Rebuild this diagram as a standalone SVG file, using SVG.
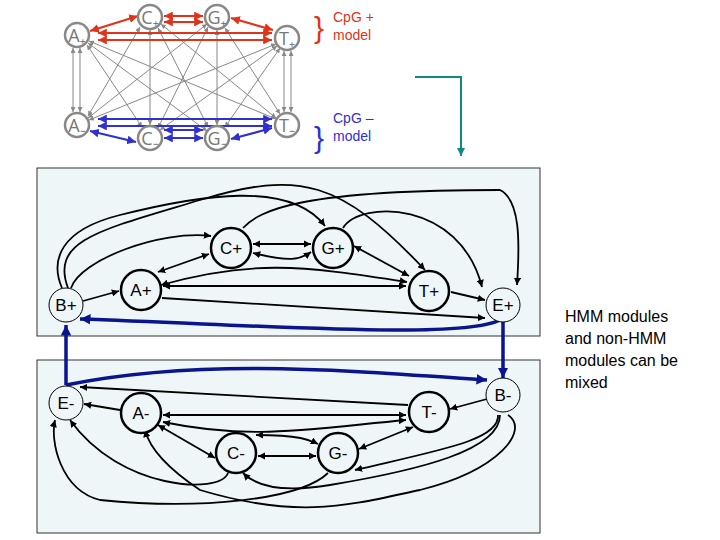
<svg xmlns="http://www.w3.org/2000/svg" width="720" height="540" viewBox="0 0 720 540">
<style>
.box{fill:#eef6f8;stroke:#333;stroke-width:1}
.n{fill:#eef6f8;stroke:#000;stroke-width:2.5}
.b{fill:#eef6f8;stroke:#000;stroke-width:1}
.t{font-family:"Liberation Sans",Arial,sans-serif;font-size:17px;text-anchor:middle;dominant-baseline:central}
.e{fill:none;stroke:#000;stroke-width:1.8;marker-end:url(#ah)}
.d{fill:none;stroke:#000;stroke-width:1.8;marker-end:url(#ah);marker-start:url(#ahs)}
.bl{fill:none;stroke:#0a148c;stroke-width:3.5;marker-end:url(#bh)}
.g{stroke:#888;stroke-width:1;marker-end:url(#gh);marker-start:url(#ghs)}
.r{stroke:#e0341a;stroke-width:2.2;marker-end:url(#rh);marker-start:url(#rhs)}
.u{stroke:#3030d0;stroke-width:2.2;marker-end:url(#uh);marker-start:url(#uhs)}
.sn{fill:#fff;stroke:#888;stroke-width:2.5}
.st{font-family:"Open Sans","Liberation Sans",sans-serif;font-size:18px;fill:#777;text-anchor:middle;dominant-baseline:central}
.lb{font-family:"Liberation Sans",sans-serif;font-size:14px}
</style>
<defs>
<marker id="ah" viewBox="0 0 10 10" refX="10" refY="5" markerWidth="4" markerHeight="4" orient="auto"><path d="M0 0L10 5L0 10z"/></marker>
<marker id="ahs" viewBox="0 0 10 10" refX="0" refY="5" markerWidth="4" markerHeight="4" orient="auto"><path d="M10 0L0 5L10 10z"/></marker>
<marker id="bh" viewBox="0 0 10 10" refX="10" refY="5" markerWidth="3" markerHeight="3" orient="auto"><path d="M0 0L10 5L0 10z" fill="#0a148c"/></marker>
<marker id="gh" viewBox="0 0 10 10" refX="10" refY="5" markerWidth="5" markerHeight="5" orient="auto"><path d="M0 0L10 5L0 10z" fill="#888"/></marker>
<marker id="ghs" viewBox="0 0 10 10" refX="0" refY="5" markerWidth="5" markerHeight="5" orient="auto"><path d="M10 0L0 5L10 10z" fill="#888"/></marker>
<marker id="rh" viewBox="0 0 10 10" refX="10" refY="5" markerWidth="4" markerHeight="4" orient="auto"><path d="M0 0L10 5L0 10z" fill="#e0341a"/></marker>
<marker id="rhs" viewBox="0 0 10 10" refX="0" refY="5" markerWidth="4" markerHeight="4" orient="auto"><path d="M10 0L0 5L10 10z" fill="#e0341a"/></marker>
<marker id="uh" viewBox="0 0 10 10" refX="10" refY="5" markerWidth="4" markerHeight="4" orient="auto"><path d="M0 0L10 5L0 10z" fill="#3030d0"/></marker>
<marker id="uhs" viewBox="0 0 10 10" refX="0" refY="5" markerWidth="4" markerHeight="4" orient="auto"><path d="M10 0L0 5L10 10z" fill="#3030d0"/></marker>
<marker id="th" viewBox="0 0 10 10" refX="10" refY="5" markerWidth="4" markerHeight="4" orient="auto"><path d="M0 0L10 5L0 10z" fill="#118888"/></marker>
</defs>
<rect width="720" height="540" fill="#fff"/>
<g id="cpg-image">
<g>
<line class="g" x1="80" y1="48" x2="80" y2="112"/><line class="g" x1="73" y1="48" x2="73" y2="112"/>
<line class="g" x1="284" y1="51" x2="284" y2="112"/><line class="g" x1="291" y1="51" x2="291" y2="112"/>
<line class="g" x1="150" y1="30" x2="150" y2="125"/><line class="g" x1="217" y1="30" x2="217" y2="125"/>
<line class="g" x1="87" y1="45" x2="142" y2="127"/><line class="g" x1="88" y1="43" x2="207" y2="131"/><line class="g" x1="89" y1="41" x2="276" y2="119"/>
<line class="g" x1="140" y1="27" x2="88" y2="116"/><line class="g" x1="158" y1="28" x2="208" y2="127"/><line class="g" x1="161" y1="24" x2="276" y2="118"/>
<line class="g" x1="207" y1="24" x2="88" y2="118"/><line class="g" x1="208" y1="27" x2="158" y2="128"/><line class="g" x1="225" y1="28" x2="280" y2="114"/>
<line class="g" x1="276" y1="44" x2="89" y2="120"/><line class="g" x1="277" y1="46" x2="160" y2="130"/><line class="g" x1="280" y1="48" x2="225" y2="127"/>
</g>
<line class="r" x1="90" y1="31" x2="138" y2="16"/><line class="r" x1="164" y1="16" x2="203" y2="16"/><line class="r" x1="164" y1="22" x2="203" y2="22"/>
<line class="r" x1="231" y1="18" x2="273" y2="30"/><line class="r" x1="98" y1="33" x2="272" y2="33"/><line class="r" x1="98" y1="40" x2="272" y2="40"/>
<line class="u" x1="98" y1="119" x2="272" y2="119"/><line class="u" x1="98" y1="126" x2="272" y2="126"/>
<line class="u" x1="90" y1="131" x2="136" y2="142"/><line class="u" x1="164" y1="130" x2="203" y2="130"/><line class="u" x1="164" y1="138" x2="203" y2="138"/><line class="u" x1="231" y1="139" x2="272" y2="128"/>
<circle class="sn" cx="77" cy="35" r="12"/><text class="st" x="77" y="35">A₊</text>
<circle class="sn" cx="150" cy="17" r="12"/><text class="st" x="150" y="17">C₊</text>
<circle class="sn" cx="217" cy="17" r="12"/><text class="st" x="217" y="17">G₊</text>
<circle class="sn" cx="287" cy="38" r="12"/><text class="st" x="287" y="38">T₊</text>
<circle class="sn" cx="77" cy="125" r="12"/><text class="st" x="77" y="125">A₋</text>
<circle class="sn" cx="150" cy="138" r="12"/><text class="st" x="150" y="138">C₋</text>
<circle class="sn" cx="217" cy="138" r="12"/><text class="st" x="217" y="138">G₋</text>
<circle class="sn" cx="287" cy="125" r="12"/><text class="st" x="287" y="125">T₋</text>
<text x="314" y="38" font-family="Liberation Sans,sans-serif" font-size="30" fill="#e0341a">}</text>
<text class="lb" x="333" y="22" fill="#e0341a">CpG +</text>
<text class="lb" x="333" y="40" fill="#e0341a">model</text>
<text x="314" y="148" font-family="Liberation Sans,sans-serif" font-size="30" fill="#3030d0">}</text>
<text class="lb" x="333" y="123" fill="#3030d0">CpG –</text>
<text class="lb" x="333" y="141" fill="#3030d0">model</text>
</g>
<polyline points="415,77 461,77 461,156" fill="none" stroke="#118888" stroke-width="2" marker-end="url(#th)"/>
<rect class="box" x="37" y="168" width="503" height="168"/>
<rect class="box" x="37" y="360" width="503" height="173"/>
<g id="connectors">
<path class="e" d="M68 288 C50 240 100 230 200 200 C300 170 340 180 425 270"/>
<path class="e" d="M62 288 C50 260 60 230 120 215 C200 195 290 180 325 226"/>
<path class="e" d="M71 288 C80 260 160 230 211 236"/>
<path class="e" d="M243 228 C260 210 300 190 500 190 C520 200 520 240 517 285"/>
<path class="e" d="M343 228 C360 200 460 200 482 287"/>
<path class="d" d="M253 244 L311 244"/><path class="d" d="M253 253 C290 262 300 260 311 252"/>
<path class="d" d="M158 272 L209 254"/><path class="d" d="M161 285 C250 260 300 265 407 282"/>
<path class="d" d="M354 246 L409 276"/><path class="d" d="M163 286 L406 286"/>
<path class="e" d="M83 301 L119 291"/>
<path class="e" d="M451 292 L485 300"/>
<path class="e" d="M162 298 L485 318"/>
<path class="bl" d="M500 320 C460 340 260 325 80 319"/>
<path class="bl" d="M66 385 L66 325"/>
<path class="bl" d="M503 322 L503 378"/>
<path class="bl" d="M66 385 C200 358 340 370 487 380"/>
<path class="e" d="M408 405 L80 387"/>
<path class="e" d="M120 410 L84 404"/>
<path class="e" d="M487 399 L450 409"/>
<path class="d" d="M163 415 L406 415"/>
<path class="d" d="M163 422 C250 440 300 430 406 420"/>
<path class="d" d="M256 435 C300 435 310 440 318 444"/>
<path class="d" d="M258 456 L316 456"/>
<path class="d" d="M158 425 L215 458"/>
<path class="d" d="M359 449 L413 427"/>
<path class="e" d="M228 473 C220 495 120 490 70 420"/>
<path class="e" d="M328 473 C300 500 200 510 100 500 C60 490 50 440 55 420"/>
<path class="e" d="M498 415 C500 440 440 450 355 470"/>
<path class="e" d="M500 415 C500 450 420 470 330 485 C270 495 250 480 243 473"/>
<path class="e" d="M508 415 C530 430 500 470 420 490 C350 505 300 520 200 490 C170 470 150 450 145 430"/>
</g>
<g id="B+"><circle class="b" cx="66" cy="305" r="17"/><text class="t" x="66" y="305">B+</text></g>
<g id="A+"><circle class="n" cx="141" cy="290" r="20"/><text class="t" x="141" y="290">A+</text></g>
<g id="C+"><circle class="n" cx="231" cy="248" r="20"/><text class="t" x="231" y="248">C+</text></g>
<g id="G+"><circle class="n" cx="333" cy="248" r="20"/><text class="t" x="333" y="248">G+</text></g>
<g id="T+"><circle class="n" cx="429" cy="291" r="20"/><text class="t" x="429" y="291">T+</text></g>
<g id="E+"><circle class="b" cx="503" cy="305" r="17"/><text class="t" x="503" y="305">E+</text></g>
<g id="E-"><circle class="b" cx="66" cy="403" r="17"/><text class="t" x="66" y="403">E-</text></g>
<g id="A-"><circle class="n" cx="141" cy="413" r="20"/><text class="t" x="141" y="413">A-</text></g>
<g id="T-"><circle class="n" cx="429" cy="412" r="20"/><text class="t" x="429" y="412">T-</text></g>
<g id="B-"><circle class="b" cx="503" cy="395" r="17"/><text class="t" x="503" y="395">B-</text></g>
<g id="C-"><circle class="n" cx="236" cy="453" r="20"/><text class="t" x="236" y="453">C-</text></g>
<g id="G-"><circle class="n" cx="338" cy="453" r="20"/><text class="t" x="338" y="453">G-</text></g>
<g font-family="Liberation Sans,Arial,sans-serif" font-size="16">
<text x="565" y="322">HMM modules</text><text x="565" y="344">and non-HMM</text><text x="565" y="366">modules can be</text><text x="565" y="388">mixed</text>
</g>
</svg>
